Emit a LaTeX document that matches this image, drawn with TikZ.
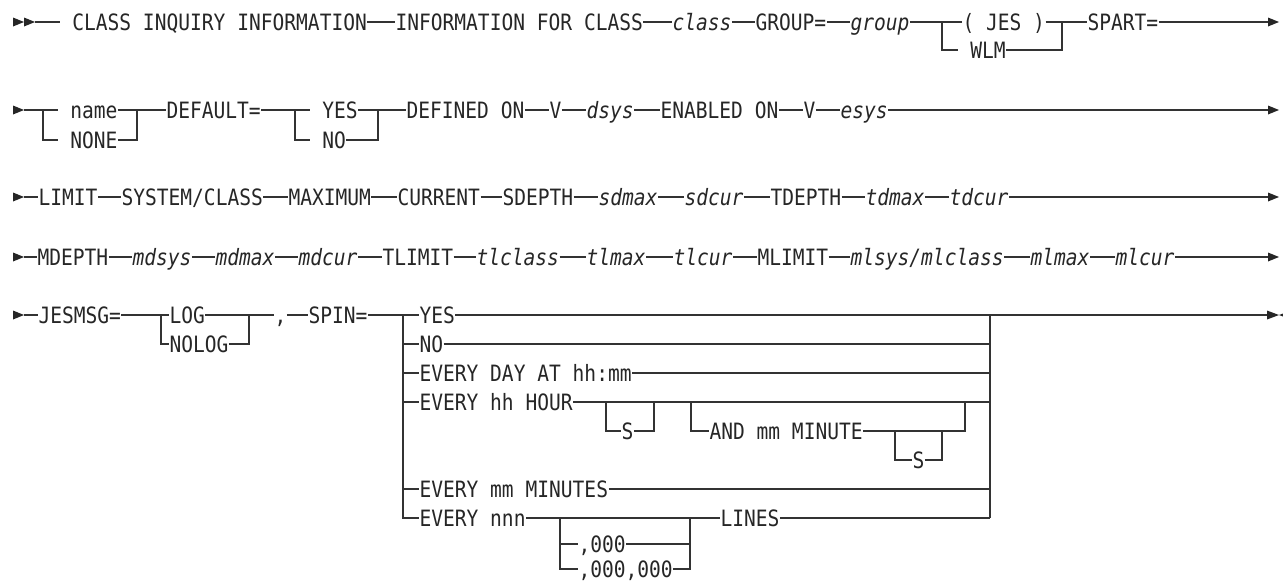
\documentclass[tikz,border=0pt]{standalone}
\usepackage{fontspec}
\setmonofont[FakeStretch=0.87]{DejaVu Sans Mono}
\usepackage{tikz}

\begin{document}
\begin{tikzpicture}[x=1pt, y=-1pt,
    rail/.style={draw=black!80, line width=1.2pt},
    kw/.style={anchor=west, inner xsep=0.3pt, inner ysep=0pt, text height=16.4pt, text depth=0pt, text=black!85, font=\ttfamily\fontsize{22.5}{27}\selectfont},
    var/.style={kw, font=\ttfamily\itshape\fontsize{22.5}{27}\selectfont},
    tipmark/.style={fill=black!85}
]
    \useasboundingbox (0,0) rectangle (1283,584);
    % row 1
    \fill[tipmark] (13,17.5) -- (24,22) -- (13,26.5) -- cycle;
    \fill[tipmark] (24,17.5) -- (35,22) -- (24,26.5) -- cycle;
    \coordinate (a1) at (35,22);
    \node[kw] (cls) at (60,22) {\ CLASS INQUIRY INFORMATION};
    \node[kw] (ifc) at (395,22) {INFORMATION FOR CLASS};
    \node[var] (cl) at (672,22) {class};
    \node[kw] (grp) at (755,22) {GROUP=};
    \node[var] (gv) at (850,22) {group};
    \coordinate (f1a) at (942,22);
    \coordinate (f1b) at (942,50);
    \node[kw] (jes) at (962,22) {( JES )};
    \node[kw] (wlm) at (958,50) {\ WLM};
    \coordinate (j1a) at (1062,22);
    \coordinate (j1b) at (1062,50);
    \node[kw] (spart) at (1087,22) {SPART=};
    \coordinate (e1) at (1268,22);
    \draw[rail] (a1) -- (cls.west);
    \draw[rail] (cls.east) -- (ifc.west);
    \draw[rail] (ifc.east) -- (cl.west);
    \draw[rail] (cl.east) -- (grp.west);
    \draw[rail] (grp.east) -- (gv.west);
    \draw[rail] (gv.east) -- (jes.west);
    \draw[rail] (f1a) -- (f1b) -- (wlm.west);
    \draw[rail] (wlm.east) -- (j1b) -- (j1a);
    \draw[rail] (jes.east) -- (spart.west);
    \draw[rail] (spart.east) -- (e1);
    \fill[tipmark] (1268,17.5) -- (1279,22) -- (1268,26.5) -- cycle;

    % row 2
    \fill[tipmark] (13,105.5) -- (24,110) -- (13,114.5) -- cycle;
    \coordinate (a2) at (24,110);
    \coordinate (f2a) at (43,110);
    \coordinate (f2b) at (43,140);
    \node[kw] (nm) at (58,110) {\ name};
    \node[kw] (none) at (58,140) {\ NONE};
    \coordinate (j2a) at (137,110);
    \coordinate (j2b) at (137,140);
    \node[kw] (dft) at (166,110) {DEFAULT=};
    \coordinate (f2c) at (295,110);
    \coordinate (f2d) at (295,140);
    \node[kw] (yes) at (310,110) {\ YES};
    \node[kw] (no) at (310,140) {\ NO};
    \coordinate (j2c) at (378,110);
    \coordinate (j2d) at (378,140);
    \node[kw] (dfo) at (406,110) {DEFINED ON};
    \node[kw] (v1) at (549,110) {V};
    \node[var] (ds) at (586,110) {dsys};
    \node[kw] (eno) at (660,110) {ENABLED ON};
    \node[kw] (v2) at (803,110) {V};
    \node[var] (es) at (840,110) {esys};
    \coordinate (e2) at (1268,110);
    \draw[rail] (a2) -- (nm.west);
    \draw[rail] (f2a) -- (f2b) -- (none.west);
    \draw[rail] (none.east) -- (j2b) -- (j2a);
    \draw[rail] (nm.east) -- (dft.west);
    \draw[rail] (dft.east) -- (yes.west);
    \draw[rail] (f2c) -- (f2d) -- (no.west);
    \draw[rail] (no.east) -- (j2d) -- (j2c);
    \draw[rail] (yes.east) -- (dfo.west);
    \draw[rail] (dfo.east) -- (v1.west);
    \draw[rail] (v1.east) -- (ds.west);
    \draw[rail] (ds.east) -- (eno.west);
    \draw[rail] (eno.east) -- (v2.west);
    \draw[rail] (v2.east) -- (es.west);
    \draw[rail] (es.east) -- (e2);
    \fill[tipmark] (1268,105.5) -- (1279,110) -- (1268,114.5) -- cycle;

    % row 3
    \fill[tipmark] (13,192.5) -- (24,197) -- (13,201.5) -- cycle;
    \coordinate (a3) at (24,197);
    \node[kw] (lim) at (38,197) {LIMIT};
    \node[kw] (sc) at (121,197) {SYSTEM/CLASS};
    \node[kw] (mx) at (288,197) {MAXIMUM};
    \node[kw] (cur) at (397,197) {CURRENT};
    \node[kw] (sdp) at (502,197) {SDEPTH};
    \node[var] (sdm) at (598,197) {sdmax};
    \node[var] (sdc) at (684,197) {sdcur};
    \node[kw] (tdp) at (770,197) {TDEPTH};
    \node[var] (tdm) at (865,197) {tdmax};
    \node[var] (tdc) at (949,197) {tdcur};
    \coordinate (e3) at (1268,197);
    \draw[rail] (a3) -- (lim.west);
    \draw[rail] (lim.east) -- (sc.west);
    \draw[rail] (sc.east) -- (mx.west);
    \draw[rail] (mx.east) -- (cur.west);
    \draw[rail] (cur.east) -- (sdp.west);
    \draw[rail] (sdp.east) -- (sdm.west);
    \draw[rail] (sdm.east) -- (sdc.west);
    \draw[rail] (sdc.east) -- (tdp.west);
    \draw[rail] (tdp.east) -- (tdm.west);
    \draw[rail] (tdm.east) -- (tdc.west);
    \draw[rail] (tdc.east) -- (e3);
    \fill[tipmark] (1268,192.5) -- (1279,197) -- (1268,201.5) -- cycle;

    % row 4
    \fill[tipmark] (13,252.5) -- (24,257) -- (13,261.5) -- cycle;
    \coordinate (a4) at (24,257);
    \node[kw] (mdp) at (37,257) {MDEPTH};
    \node[var] (mds) at (132,257) {mdsys};
    \node[var] (mdm) at (215,257) {mdmax};
    \node[var] (mdc) at (298,257) {mdcur};
    \node[kw] (tl) at (382,257) {TLIMIT};
    \node[var] (tlc) at (476,257) {tlclass};
    \node[var] (tlm) at (586,257) {tlmax};
    \node[var] (tlu) at (673,257) {tlcur};
    \node[kw] (ml) at (757,257) {MLIMIT};
    \node[var] (mls) at (850,257) {mlsys/mlclass};
    \node[var] (mlm) at (1030,257) {mlmax};
    \node[var] (mlc) at (1115,257) {mlcur};
    \coordinate (e4) at (1268,257);
    \draw[rail] (a4) -- (mdp.west);
    \draw[rail] (mdp.east) -- (mds.west);
    \draw[rail] (mds.east) -- (mdm.west);
    \draw[rail] (mdm.east) -- (mdc.west);
    \draw[rail] (mdc.east) -- (tl.west);
    \draw[rail] (tl.east) -- (tlc.west);
    \draw[rail] (tlc.east) -- (tlm.west);
    \draw[rail] (tlm.east) -- (tlu.west);
    \draw[rail] (tlu.east) -- (ml.west);
    \draw[rail] (ml.east) -- (mls.west);
    \draw[rail] (mls.east) -- (mlm.west);
    \draw[rail] (mlm.east) -- (mlc.west);
    \draw[rail] (mlc.east) -- (e4);
    \fill[tipmark] (1268,252.5) -- (1279,257) -- (1268,261.5) -- cycle;

    % row 5
    \fill[tipmark] (13,310.5) -- (24,315) -- (13,319.5) -- cycle;
    \coordinate (a5) at (24,315);
    \node[kw] (jm) at (38,315) {JESMSG=};
    \coordinate (f5a) at (161,315);
    \coordinate (f5b) at (161,344);
    \node[kw] (log) at (169,315) {LOG};
    \node[kw] (nolog) at (169,344) {NOLOG};
    \coordinate (j5a) at (249,315);
    \coordinate (j5b) at (249,344);
    \node[kw] (cm) at (274,315) {,};
    \node[kw] (spin) at (308,315) {SPIN=};
    \coordinate (f5c) at (403,315);
    \coordinate (f5d) at (403,518);
    \node[kw] (oy) at (419,315) {YES};
    \node[kw] (on) at (419,344) {NO};
    \node[kw] (oday) at (419,373) {EVERY DAY AT hh:mm};
    \node[kw] (ohr) at (419,402) {EVERY hh HOUR};
    \node[kw] (omin) at (419,489) {EVERY mm MINUTES};
    \node[kw] (onnn) at (419,518) {EVERY nnn};
    \coordinate (j5c) at (990,315);
    \coordinate (j5d) at (990,518);
    \coordinate (fs1a) at (606,402);
    \coordinate (fs1b) at (606,431);
    \node[kw] (s1) at (621,431) {S};
    \coordinate (js1a) at (654,402);
    \coordinate (js1b) at (654,431);
    \coordinate (fa1) at (691,402);
    \coordinate (fa2) at (691,431);
    \node[kw] (andm) at (709,431) {AND mm MINUTE};
    \coordinate (fs2a) at (895,431);
    \coordinate (fs2b) at (895,460);
    \node[kw] (s2) at (912,460) {S};
    \coordinate (js2a) at (942,431);
    \coordinate (js2b) at (942,460);
    \coordinate (ja1) at (965,402);
    \coordinate (ja2) at (965,431);
    \coordinate (fn) at (560,518);
    \coordinate (fn1) at (560,544);
    \coordinate (fn2) at (560,569);
    \node[kw] (k1) at (578,544) {,000};
    \node[kw] (k2) at (578,569) {,000,000};
    \coordinate (jn) at (690,518);
    \coordinate (jn1) at (690,544);
    \coordinate (jn2) at (690,569);
    \node[kw] (lines) at (720,518) {LINES};
    \coordinate (st1) at (997,314.5);
    \coordinate (st2) at (1018,314.5);
    \coordinate (e5) at (1267,315);
    \draw[rail] (a5) -- (jm.west);
    \draw[rail] (jm.east) -- (log.west);
    \draw[rail] (f5a) -- (f5b) -- (nolog.west);
    \draw[rail] (nolog.east) -- (j5b) -- (j5a);
    \draw[rail] (log.east) -- (cm.west);
    \draw[rail] (cm.east) -- (spin.west);
    \draw[rail] (spin.east) -- (oy.west);
    \draw[rail] (f5c) -- (f5d) -- (onnn.west);
    \draw[rail] (on.west -| f5c) -- (on.west);
    \draw[rail] (oday.west -| f5c) -- (oday.west);
    \draw[rail] (ohr.west -| f5c) -- (ohr.west);
    \draw[rail] (omin.west -| f5c) -- (omin.west);
    \draw[rail] (oy.east) -- (e5);
    \draw[rail] (j5c) -- (j5d);
    \draw[rail] (on.east) -- (on.east -| j5c);
    \draw[rail] (oday.east) -- (oday.east -| j5c);
    \draw[rail] (ohr.east) -- (ohr.east -| j5c);
    \draw[rail] (omin.east) -- (omin.east -| j5c);
    \draw[rail] (fs1a) -- (fs1b) -- (s1.west);
    \draw[rail] (s1.east) -- (js1b) -- (js1a);
    \draw[rail] (fa1) -- (fa2) -- (andm.west);
    \draw[rail] (andm.east) -- (ja2) -- (ja1);
    \draw[rail] (fs2a) -- (fs2b) -- (s2.west);
    \draw[rail] (s2.east) -- (js2b) -- (js2a);
    \draw[rail] (onnn.east) -- (lines.west);
    \draw[rail] (fn) -- (fn2) -- (k2.west);
    \draw[rail] (fn1) -- (k1.west);
    \draw[rail] (k2.east) -- (jn2) -- (jn);
    \draw[rail] (k1.east) -- (jn1);
    \draw[rail] (lines.east) -- (lines.east -| j5c);
    \draw[rail, line width=2pt] (st1) -- (st2);
    \fill[tipmark] (1267,310.5) -- (1279,315) -- (1267,319.5) -- cycle;
    \fill[tipmark] (1291,310.5) -- (1279,315) -- (1291,319.5) -- cycle;
\end{tikzpicture}
\end{document}
